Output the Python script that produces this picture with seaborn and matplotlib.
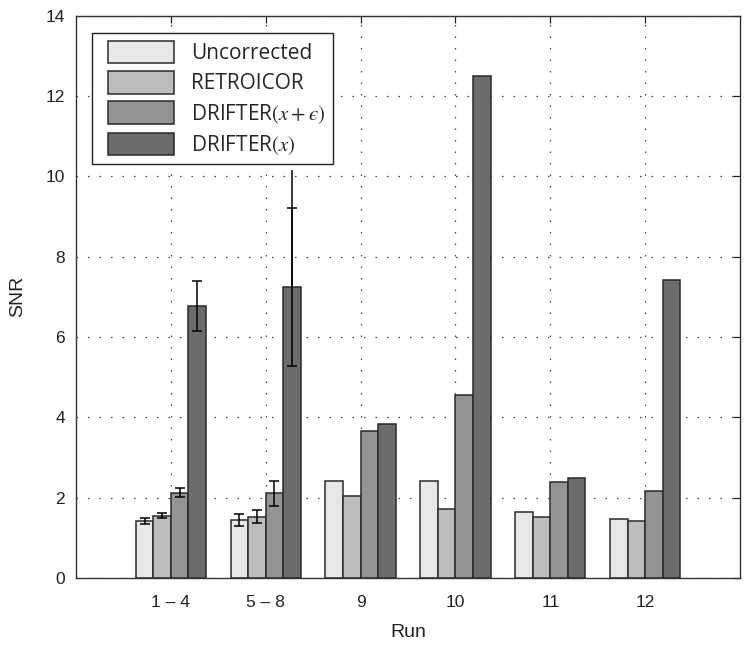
import numpy as np
import pandas as pd
import seaborn as sns
import matplotlib.pyplot as plt
from matplotlib.patches import Patch, Rectangle
from matplotlib.legend_handler import HandlerPatch

# ------------ Data ------------
runs = ["1 – 4", "5 – 8", "9", "10", "11", "12"]
methods = ["Uncorrected", "RETROICOR", "DRIFTER$(x + \u03f5)$", "DRIFTER$(x)$"]

uncorrected = [1.42, 1.44, 2.42, 2.42, 1.65, 1.46]
retroicor = [1.55, 1.53, 2.03, 1.71, 1.51, 1.43]
drifter_xe = [2.12, 2.11, 3.66, 4.55, 2.38, 2.16]
drifter_x = [6.77, 7.25, 3.83, 12.51, 2.50, 7.41]

nan = np.nan
uncorrected_err = [0.07, 0.15, nan, nan, nan, nan]
retroicor_err = [0.06, 0.16, nan, nan, nan, nan]
drifter_xe_err = [0.11, 0.31, nan, nan, nan, nan]
drifter_x_err = [0.63, 1.97, nan, nan, nan, nan]
# whisker of run 5-8 DRIFTER(x) runs on past its cap
drifter_x_tail = [nan, 10.16, nan, nan, nan, nan]

colors = ["#e6e7e8", "#bcbdbf", "#939497", "#6b6c6f"]
edge = "#2a2a2a"

values = [uncorrected, retroicor, drifter_xe, drifter_x]
errors = [uncorrected_err, retroicor_err, drifter_xe_err, drifter_x_err]

df = pd.DataFrame({
    "Run": np.tile(runs, len(methods)),
    "Method": np.repeat(methods, len(runs)),
    "SNR": np.concatenate(values),
})

# ------------ Plot ------------
sns.set_style("white")
plt.rcParams["font.family"] = ["Liberation Sans", "DejaVu Sans"]
plt.rcParams["mathtext.fontset"] = "stix"

fig = plt.figure(figsize=(7.54, 6.48), dpi=100)
ax = fig.add_axes([0.1008, 0.108, 0.8806, 0.8678])

sns.barplot(data=df, x="Run", y="SNR", hue="Method", order=runs, hue_order=methods,
            palette=colors, width=0.74, gap=0, edgecolor=edge, linewidth=1.1,
            errorbar=None, legend=False, ax=ax, zorder=2)

for cont, err, method in zip(ax.containers, errors, methods):
    xs = np.array([p.get_x() + p.get_width() / 2 for p in cont.patches])
    ys = np.array([p.get_height() for p in cont.patches])
    ax.errorbar(xs, ys, yerr=err, fmt="none", ecolor="black", elinewidth=1.1,
                capsize=3.5, capthick=1.1, zorder=3)
    if method == methods[-1]:
        tail = np.array(drifter_x_tail) - ys
        ax.errorbar(xs, ys, yerr=[np.zeros_like(tail), tail], fmt="none",
                    ecolor="black", elinewidth=1.1, capsize=0, zorder=3)

ax.set_xlim(-1, 6)
ax.set_ylim(0, 14)
ax.set_yticks(np.arange(0, 15, 2))
ax.set_xlabel("Run", fontsize=14, color="#222222", labelpad=10)
ax.set_ylabel("SNR", fontsize=14, color="#222222", labelpad=14)

ax.grid(True, color="#444444", linestyle=(0, (1.2, 8)), linewidth=0.9, zorder=0)
ax.set_axisbelow(True)

ax.tick_params(direction="in", length=5, width=0.9, top=True, right=True,
               labelsize=12.5, colors="#222222", pad=8)
ax.tick_params(axis="x", pad=12)
for s in ax.spines.values():
    s.set_visible(True)
    s.set_color("#333333")
    s.set_linewidth(1.0)


# legend swatches sit a little in from the frame's left edge
def shifted_patch(legend, orig_handle, xdescent, ydescent, width, height, fontsize):
    off = 6
    return Rectangle((-xdescent + off, -ydescent), width - off, height)


handles = [Patch(facecolor=c, edgecolor=edge, linewidth=1.1, label=m)
           for c, m in zip(colors, methods)]
leg = ax.legend(handles=handles, loc="upper left", bbox_to_anchor=(0.0236, 0.969),
                borderaxespad=0, fancybox=False, framealpha=1, edgecolor="#222222",
                prop={"family": ["Open Sans", "DejaVu Sans"], "size": 15},
                handlelength=3.6, handleheight=1.285, labelspacing=0.34,
                handletextpad=0.8, borderpad=0.37,
                handler_map={Patch: HandlerPatch(patch_func=shifted_patch)})
leg.get_frame().set_linewidth(1.0)
leg.set_zorder(5)

fig.savefig("out.png", dpi=100)
